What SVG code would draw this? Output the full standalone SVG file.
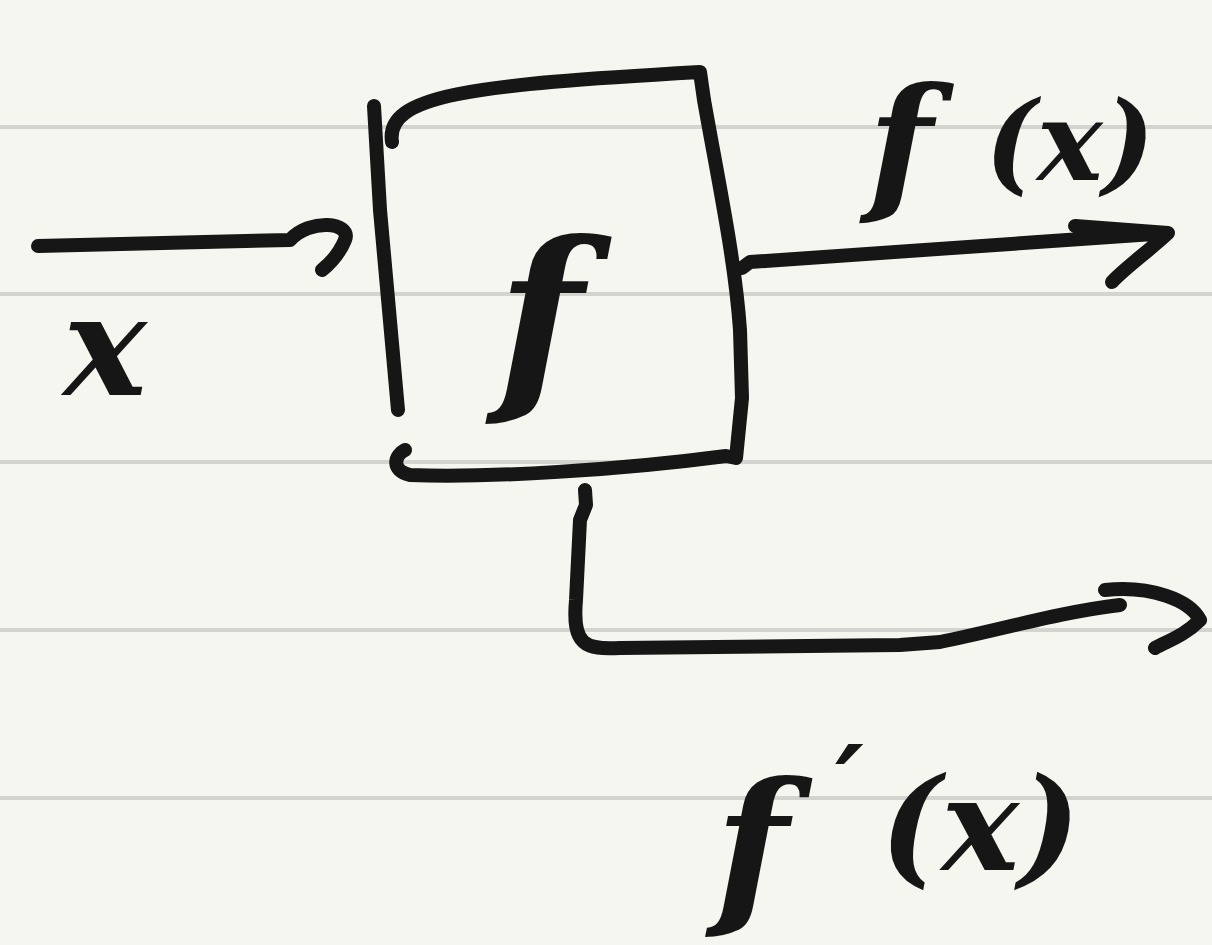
<svg xmlns="http://www.w3.org/2000/svg" width="1212" height="945" viewBox="0 0 1212 945">
<style>
.rule{stroke:#d3d3cf;stroke-width:4}
.ink{fill:none;stroke:#161616;stroke-width:14;stroke-linecap:round;stroke-linejoin:round}
.lbl{font-family:"DejaVu Serif","Liberation Serif",serif;font-style:italic;font-weight:bold;fill:#161616}
</style>
<rect width="1212" height="945" fill="#f6f6f1"/>
<g id="rules">
<line class="rule" x1="0" y1="127" x2="1212" y2="127"/>
<line class="rule" x1="0" y1="294" x2="1212" y2="294"/>
<line class="rule" x1="0" y1="462" x2="1212" y2="462"/>
<line class="rule" x1="0" y1="630" x2="1212" y2="630"/>
<line class="rule" x1="0" y1="798" x2="1212" y2="798"/>
</g>
<g id="box">
<path class="ink" d="M374 106 L380 210 L398 410"/>
<path class="ink" d="M392 142 C385 95 470 85 700 72 L704 100 C720 190 735 260 740 330 L742 398 L736 458 L726 456 C620 470 490 478 410 475 C390 470 395 455 405 450"/>
<text class="lbl" x="540" y="385" font-size="200" text-anchor="middle">f</text>
</g>
<g id="label-x">
<text class="lbl" x="105" y="395" font-size="140" text-anchor="middle">x</text>
</g>
<g id="label-fx">
<text class="lbl" y="195" font-size="150"><tspan x="868">f</tspan><tspan x="985" font-size="110" dy="-15">(x)</tspan></text>
</g>
<g id="label-dfx">
<text class="lbl" y="905" font-size="170"><tspan x="715">f</tspan><tspan x="835" dy="-80" font-size="110">′</tspan><tspan x="880" dy="45" font-size="130">(x)</tspan></text>
</g>
<g id="connectors">
<path class="ink" d="M38 246 L290 240 C310 218 352 222 345 240 C340 252 332 262 322 270"/>
<path class="ink" d="M742 268 L750 262 L1168 233 M1075 226 L1168 233 C1150 250 1125 268 1112 282"/>
<path class="ink" d="M585 490 L586 505 L580 520 L576 600 C572 645 585 650 620 648 L900 645 L940 642 C1000 630 1060 612 1120 605 M1105 590 C1150 585 1190 600 1200 620 C1185 635 1170 640 1155 648"/>
</g>
</svg>
